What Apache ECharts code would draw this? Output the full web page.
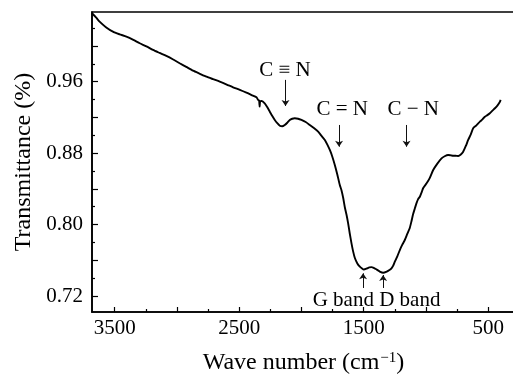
<!DOCTYPE html>
<html>
<head>
<meta charset="utf-8">
<script src="https://cdn.jsdelivr.net/npm/echarts@6/dist/echarts.min.js"></script>
<style>
html, body { margin:0; padding:0; background:#fff; }
#main { width:513px; height:375px; }
</style>
</head>
<body>
<div id="main"></div>
<script>
// spectrum (wave number in cm-1, transmittance)
var waveNumber = [3682, 3650, 3621, 3570, 3514, 3460, 3406, 3350, 3299, 3245, 3192, 3140, 3085, 3030, 2978, 2925,
    2871, 2815, 2763, 2710, 2656, 2600, 2549, 2495, 2442, 2400, 2361, 2348, 2340, 2336, 2332, 2319, 2295, 2275,
    2254, 2234, 2214, 2194, 2174, 2154, 2134, 2114, 2094, 2074, 2054, 2027, 2000, 1966, 1933, 1900, 1866, 1840,
    1812, 1792, 1772, 1752, 1732, 1712, 1692, 1679, 1665, 1652, 1638, 1625, 1612, 1598, 1585, 1571, 1551, 1531,
    1515, 1499, 1475, 1455, 1437, 1420, 1403, 1371, 1344, 1315, 1290, 1277, 1263, 1250, 1230, 1210, 1190, 1170,
    1150, 1130, 1116, 1103, 1089, 1076, 1063, 1049, 1035, 1022, 995, 970, 942, 910, 875, 850, 822, 800, 781, 760,
    741, 720, 701, 680, 661, 640, 621, 595, 567, 545, 527, 507, 487, 466, 446, 425, 406, 400];
var transmittance = [1.0366, 1.032, 1.0272, 1.021, 1.016, 1.013, 1.0104, 1.0068, 1.003, 0.9995, 0.9955, 0.9922, 0.9888, 0.9848, 0.9806, 0.9765,
    0.9723, 0.9688, 0.9656, 0.9628, 0.96, 0.9568, 0.9537, 0.9508, 0.9477, 0.945, 0.9425, 0.9395, 0.939, 0.932, 0.9375, 0.9384, 0.9358, 0.9315,
    0.9264, 0.9215, 0.9171, 0.9135, 0.9107, 0.91, 0.9115, 0.914, 0.9171, 0.9185, 0.919, 0.9185, 0.9171, 0.9148, 0.9115, 0.908, 0.904, 0.8995,
    0.8947, 0.8895, 0.8835, 0.876, 0.8667, 0.856, 0.8443, 0.8387, 0.83, 0.8197, 0.811, 0.8014, 0.79, 0.779, 0.77, 0.7626, 0.7565, 0.7528,
    0.751, 0.7497, 0.7508, 0.752, 0.7523, 0.7515, 0.7502, 0.7474, 0.746, 0.7474, 0.7495, 0.751, 0.754, 0.7584, 0.7645, 0.7715, 0.7775, 0.7827,
    0.7895, 0.7962, 0.804, 0.8118, 0.8182, 0.824, 0.8285, 0.8312, 0.836, 0.841, 0.8462, 0.852, 0.8611, 0.868, 0.8742, 0.8765, 0.8779, 0.8775, 0.8771, 0.877,
    0.8768, 0.8785, 0.8816, 0.888, 0.8947, 0.901, 0.9078, 0.911, 0.9152, 0.918, 0.9208, 0.9225, 0.9246, 0.9275, 0.9302, 0.9335, 0.9376, 0.9395];

// ticks
var xLabelTicks = [3500, 2500, 1500, 500];
var xLongTicks = [3500, 3000, 2500, 2000, 1500, 1000, 500];
var xShortTicks = [3250, 2750, 2250, 1750, 1250, 750];
var yLabelTicks = [0.72, 0.80, 0.88, 0.96];
var yLongTicks = [0.72, 0.76, 0.80, 0.84, 0.88, 0.92, 0.96, 1.00];
var yShortTicks = [0.74, 0.78, 0.82, 0.86, 0.90, 0.94, 0.98, 1.02];

// band annotations
var bandNames = ['C ≡ N', 'C = N', 'C − N', 'G band D band'];
var bandTextX = [2132, 1673, 1103, 1397];
var bandTextY = [0.973, 0.9283, 0.9283, 0.7155];
var arrowX = [2128, 1698, 1156, 1505, 1344];
var arrowFrom = [0.962, 0.9115, 0.9115, 0.729, 0.729];
var arrowTo = [0.9328, 0.8872, 0.8872, 0.7454, 0.7435];

var font = 'Liberation Serif';
var xMin = 285, xMax = 3682, yMin = 0.7021, yMax = 1.038;

var option = {
    backgroundColor: '#fff',
    animation: false,
    grid: { left:92, right:-2, top:12, bottom:63, show:true, borderColor:'#000', borderWidth:1.6, outerBoundsMode:'none' },
    xAxis: [
        {
            type:'value', inverse:true, position:'bottom', min:xMin, max:xMax,
            name:'Wave number (cm{sup|−1})', nameLocation:'middle', nameGap:39,
            nameTextStyle: { fontFamily:font, fontSize:24, color:'#000',
                rich: { sup: { fontFamily:font, fontSize:15, color:'#000', verticalAlign:'top', padding:[0,0,0,1] } } },
            axisLine: { onZero:false, lineStyle: { color:'#000', width:1.6 } },
            axisTick: { inside:true, length:5, customValues:xLongTicks, lineStyle: { color:'#000', width:1.2 } },
            axisLabel: { customValues:xLabelTicks, margin:6, fontFamily:font, fontSize:21, color:'#000',
                formatter: function (v) { return String(v); } },
            splitLine: { show:false }
        },
        {
            type:'value', inverse:true, position:'bottom', min:xMin, max:xMax,
            axisLine: { show:false },
            axisTick: { inside:true, length:3, customValues:xShortTicks, lineStyle: { color:'#000', width:1.2 } },
            axisLabel: { show:false },
            splitLine: { show:false }
        }
    ],
    yAxis: [
        {
            type:'value', position:'left', min:yMin, max:yMax,
            name:'Transmittance (%)', nameLocation:'middle', nameGap:56,
            nameTextStyle: { fontFamily:font, fontSize:24, color:'#000' },
            axisLine: { show:true, onZero:false, lineStyle: { color:'#000', width:1.6 } },
            axisTick: { inside:true, length:6, customValues:yLongTicks, lineStyle: { color:'#000', width:1.2 } },
            axisLabel: { customValues:yLabelTicks, margin:9, fontFamily:font, fontSize:21, color:'#000',
                formatter: function (v) { return v.toFixed(2); } },
            splitLine: { show:false }
        },
        {
            type:'value', position:'left', min:yMin, max:yMax,
            axisLine: { show:false },
            axisTick: { inside:true, length:3, customValues:yShortTicks, lineStyle: { color:'#000', width:1.2 } },
            axisLabel: { show:false },
            splitLine: { show:false }
        }
    ],
    series: [
        // spectrum
        {
            name:'spectrum', type:'line', xAxisIndex:0, yAxisIndex:0,
            data: waveNumber.map(function (w, i) { return [w, transmittance[i]]; }),
            showSymbol:false, smooth:0.2,
            lineStyle: { color:'#000', width:1.9 },
            markLine: {
                silent:true, symbol:['none', 'arrow'], symbolSize:6,
                lineStyle: { color:'#111', width:1, type:'solid' },
                label: { show:false },
                emphasis: { disabled:true },
                data: arrowX.map(function (x, i) { return [{ coord:[x, arrowFrom[i]] }, { coord:[x, arrowTo[i]] }]; })
            }
        },
        // band labels
        {
            name:'bands', type:'scatter', xAxisIndex:0, yAxisIndex:0, z:5,
            symbolSize:0, itemStyle: { color:'#000', opacity:1 }, silent:true,
            data: bandNames.map(function (n, i) { return { name:n, value:[bandTextX[i], bandTextY[i]] }; }),
            label: { show:true, position:'inside', formatter:'{b}', fontFamily:font, fontSize:21,
                color:'#000', opacity:1, textBorderWidth:0 }
        }
    ]
};

var myChart = echarts.init(document.getElementById('main'));
myChart.setOption(option);
</script>
</body>
</html>
